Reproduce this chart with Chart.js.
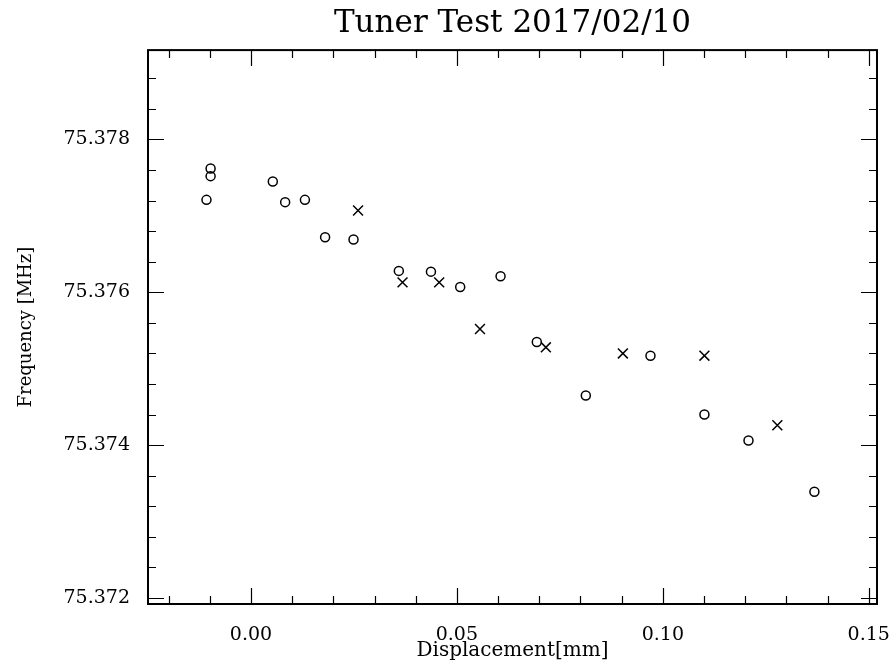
<!DOCTYPE html>
<html lang="en">
<head>
<meta charset="UTF-8">
<title>Tuner Test 2017/02/10</title>
<script src="https://cdn.jsdelivr.net/npm/chart.js"></script>
<style>
    body {
        margin: 0;
        background-color: white;
    }
</style>
</head>
<body>
<canvas id="tunerChart" width="889" height="664"></canvas>

<script>
    // Open circle markers
    const circleX = [-0.0108, -0.0098, -0.0098, 0.0053, 0.0083, 0.0131, 0.0180, 0.0249, 0.0359,
                     0.0437, 0.0508, 0.0606, 0.0694, 0.0813, 0.0970, 0.1101, 0.1208, 0.1368];
    const circleY = [75.37721, 75.37762, 75.37752, 75.37745, 75.37718, 75.37721, 75.37672, 75.37669, 75.37628,
                     75.37627, 75.37607, 75.37621, 75.37535, 75.37465, 75.37517, 75.37440, 75.37406, 75.37339];

    // Cross markers
    const crossX = [0.0260, 0.0368, 0.0457, 0.0556, 0.0716, 0.0903, 0.1101, 0.1278];
    const crossY = [75.37707, 75.37613, 75.37613, 75.37552, 75.37528, 75.37520, 75.37517, 75.37426];

    // Axis ticks
    const xMajorTicks = [0.00, 0.05, 0.10, 0.15];
    const xMinorTicks = [-0.02, -0.01, 0.01, 0.02, 0.03, 0.04, 0.06, 0.07, 0.08, 0.09, 0.11, 0.12, 0.13, 0.14];
    const yMajorTicks = [75.372, 75.374, 75.376, 75.378];
    const yMinorTicks = [75.3724, 75.3728, 75.3732, 75.3736, 75.3744, 75.3748, 75.3752, 75.3756,
                         75.3764, 75.3768, 75.3772, 75.3776, 75.3784, 75.3788];

    const toPoints = (xs, ys) => xs.map((x, i) => ({ x: x, y: ys[i] }));

    // frame with inward ticks on all four sides
    const frameTicks = {
        id: 'frameTicks',
        afterDatasetsDraw(chart) {
            const ctx = chart.ctx;
            const area = chart.chartArea;
            const xs = chart.scales.x;
            const ys = chart.scales.y;
            ctx.save();
            ctx.strokeStyle = '#000';
            ctx.lineWidth = 1.2;
            ctx.beginPath();
            function xTick(v, len) {
                const px = Math.round(xs.getPixelForValue(v)) + 0.5;
                ctx.moveTo(px, area.bottom);
                ctx.lineTo(px, area.bottom - len);
                ctx.moveTo(px, area.top);
                ctx.lineTo(px, area.top + len);
            }
            function yTick(v, len) {
                const py = Math.round(ys.getPixelForValue(v)) + 0.5;
                ctx.moveTo(area.left, py);
                ctx.lineTo(area.left + len, py);
                ctx.moveTo(area.right, py);
                ctx.lineTo(area.right - len, py);
            }
            xMajorTicks.forEach(v => xTick(v, 16));
            xMinorTicks.forEach(v => xTick(v, 8));
            yMajorTicks.forEach(v => yTick(v, 16));
            yMinorTicks.forEach(v => yTick(v, 8));
            ctx.stroke();
            ctx.lineWidth = 2;
            ctx.strokeRect(area.left, area.top, area.right - area.left, area.bottom - area.top);
            ctx.restore();
        }
    };

    const labelFont = { family: 'DejaVu Serif', size: 19, weight: 'normal' };

    new Chart(document.getElementById('tunerChart').getContext('2d'), {
        type: 'scatter',
        data: {
            datasets: [
                {
                    label: 'circles',
                    data: toPoints(circleX, circleY),
                    pointStyle: 'circle',
                    pointRadius: 4.5,
                    borderColor: '#000',
                    borderWidth: 1.5,
                    backgroundColor: 'rgba(0,0,0,0)'
                },
                {
                    label: 'crosses',
                    data: toPoints(crossX, crossY),
                    pointStyle: 'crossRot',
                    pointRadius: 7,
                    borderColor: '#000',
                    borderWidth: 1.5
                }
            ]
        },
        options: {
            responsive: false,
            animation: false,
            layout: { padding: { right: 12 } },
            plugins: {
                legend: { display: false },
                tooltip: { enabled: false },
                title: {
                    display: true,
                    text: 'Tuner Test 2017/02/10',
                    fullSize: false,
                    color: '#000',
                    font: { family: 'DejaVu Serif', size: 31, weight: 'normal', lineHeight: 1.1 },
                    padding: { top: 7, bottom: 9 }
                }
            },
            scales: {
                x: {
                    type: 'linear',
                    min: -0.025,
                    max: 0.152,
                    afterBuildTicks: s => { s.ticks = xMajorTicks.map(v => ({ value: v })); },
                    afterFit: s => {
                        s.height = 60;
                        s.paddingLeft = 0;
                        s.paddingRight = 0;
                    },
                    grid: { display: false },
                    border: { display: false },
                    ticks: {
                        color: '#000',
                        font: labelFont,
                        padding: 12,
                        maxRotation: 0,
                        callback: v => v.toFixed(2)
                    },
                    title: {
                        display: true,
                        text: 'Displacement[mm]',
                        color: '#000',
                        font: { family: 'DejaVu Serif', size: 20, weight: 'normal' },
                        padding: { top: 0, bottom: 1 }
                    }
                },
                y: {
                    type: 'linear',
                    min: 75.37192,
                    max: 75.37917,
                    afterBuildTicks: s => { s.ticks = yMajorTicks.map(v => ({ value: v })); },
                    afterFit: s => {
                        s.width = 148;
                        s.paddingTop = 0;
                        s.paddingBottom = 0;
                    },
                    grid: { display: false },
                    border: { display: false },
                    ticks: {
                        color: '#000',
                        font: labelFont,
                        padding: 10,
                        callback: v => v.toFixed(3)
                    },
                    title: {
                        display: true,
                        text: 'Frequency [MHz]',
                        color: '#000',
                        font: { family: 'DejaVu Serif', size: 18, weight: 'normal' },
                        padding: { top: 16, bottom: 0 }
                    }
                }
            }
        },
        plugins: [frameTicks]
    });
</script>
</body>
</html>
